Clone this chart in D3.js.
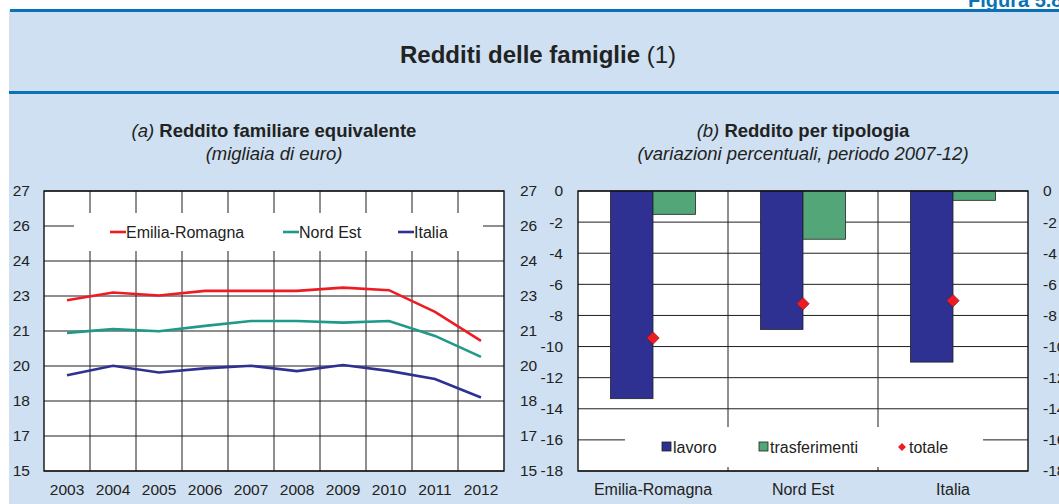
<!DOCTYPE html>
<html>
<head>
<meta charset="utf-8">
<script src="https://cdn.jsdelivr.net/npm/d3@7"></script>
<style>
  body { margin: 0; background: #fff; }
  svg { display: block; font-family: "Liberation Sans", Arial, sans-serif; }
</style>
</head>
<body>
<svg id="chart" width="1059" height="504"></svg>
<script>
// pannello (a): reddito familiare equivalente, migliaia di euro
const anni = ["2003", "2004", "2005", "2006", "2007", "2008", "2009", "2010", "2011", "2012"];
const emiliaRomagna = [22.32, 22.65, 22.52, 22.72, 22.72, 22.72, 22.86, 22.75, 21.82, 20.58];
const nordEst = [20.92, 21.08, 20.99, 21.22, 21.43, 21.43, 21.36, 21.43, 20.79, 19.89];
const italia = [19.10, 19.51, 19.22, 19.40, 19.51, 19.28, 19.54, 19.29, 18.94, 18.15];
const tickA = [15, 16.5, 18, 19.5, 21, 22.5, 24, 25.5, 27];
const tickLabelA = ["15", "17", "18", "20", "21", "23", "24", "26", "27"];

// pannello (b): variazioni percentuali 2007-12
const aree = ["Emilia-Romagna", "Nord Est", "Italia"];
const lavoro = [-13.35, -8.9, -11.0];
const trasferimenti = [-1.5, -3.1, -0.6];
const totale = [-9.45, -7.25, -7.05];
const tickB = [0, -2, -4, -6, -8, -10, -12, -14, -16, -18];

const blu = "#0a72b5";
const sfondo = "#cee0f1";
const rosso = "#ed1c24";
const verdeAcqua = "#1f9a88";
const bluScuro = "#2e3192";
const verde = "#52a677";
const griglia = "#1e1e1e";

const svg = d3.select("#chart");

// testata
svg.append("rect").attr("x", 9).attr("y", 10).attr("width", 1050).attr("height", 494).attr("fill", sfondo);
svg.append("rect").attr("x", 10).attr("y", 9).attr("width", 1049).attr("height", 3).attr("fill", blu);
svg.append("rect").attr("x", 9).attr("y", 91).attr("width", 1050).attr("height", 3).attr("fill", blu);
svg.append("text").attr("x", 968).attr("y", 7)
  .attr("fill", blu).attr("font-weight", "bold").attr("font-size", 20)
  .text("Figura 5.8");

const titolo = svg.append("text").attr("x", 538).attr("y", 63)
  .attr("text-anchor", "middle").attr("font-size", 24).attr("fill", "#222");
titolo.append("tspan").attr("font-weight", "bold").text("Redditi delle famiglie ");
titolo.append("tspan").text("(1)");

// sottotitoli
function sottotitolo(cx, lettera, testo, nota) {
  const t = svg.append("text").attr("x", cx).attr("y", 137)
    .attr("text-anchor", "middle").attr("font-size", 18.5).attr("fill", "#222");
  t.append("tspan").attr("font-style", "italic").text(lettera + " ");
  t.append("tspan").attr("font-weight", "bold").text(testo);
  svg.append("text").attr("x", cx).attr("y", 160)
    .attr("text-anchor", "middle").attr("font-size", 18.5).attr("font-style", "italic")
    .attr("fill", "#222").text(nota);
}
sottotitolo(274, "(a)", "Reddito familiare equivalente", "(migliaia di euro)");
sottotitolo(803, "(b)", "Reddito per tipologia", "(variazioni percentuali, periodo 2007-12)");

const yTop = 191, yBottom = 471;

function assi(g, axis, x) {
  g.attr("transform", `translate(${x},0)`).call(axis);
  g.select(".domain").remove();
  g.selectAll("text").attr("font-size", 15.5).attr("fill", "#222");
}

// ---------- pannello (a) ----------
const xA = d3.scaleBand().domain(anni).range([44, 504]);
const yA = d3.scaleLinear().domain([15, 27]).range([yBottom, yTop]);

const gA = svg.append("g");
gA.append("rect").attr("x", 44).attr("y", yTop).attr("width", 460).attr("height", yBottom - yTop).attr("fill", "#fff");

gA.selectAll(".hA").data(tickA).enter().append("line")
  .attr("x1", 44).attr("x2", 504).attr("y1", d => yA(d)).attr("y2", d => yA(d))
  .attr("stroke", griglia).attr("stroke-width", 1);
gA.selectAll(".vA").data(anni.slice(1)).enter().append("line")
  .attr("x1", d => xA(d)).attr("x2", d => xA(d)).attr("y1", yTop).attr("y2", yBottom)
  .attr("stroke", griglia).attr("stroke-width", 1);

// legenda (a)
gA.append("rect").attr("x", 74).attr("y", 213).attr("width", 409).attr("height", 38).attr("fill", "#fff");

const serieA = [
  { nome: "Emilia-Romagna", valori: emiliaRomagna, colore: rosso, lx: 110 },
  { nome: "Nord Est", valori: nordEst, colore: verdeAcqua, lx: 283 },
  { nome: "Italia", valori: italia, colore: bluScuro, lx: 398 }
];

const linea = d3.line().x((d, i) => xA(anni[i]) + xA.bandwidth() / 2).y(d => yA(d));
gA.selectAll(".serie").data(serieA).enter().append("path")
  .attr("d", d => linea(d.valori))
  .attr("fill", "none").attr("stroke", d => d.colore).attr("stroke-width", 2.6);

const legA = gA.selectAll(".legA").data(serieA).enter().append("g")
  .attr("transform", d => `translate(${d.lx},232)`);
legA.append("line").attr("x1", 0).attr("x2", 16).attr("stroke", d => d.colore).attr("stroke-width", 2.6);
legA.append("text").attr("x", 16).attr("dy", "0.35em").attr("font-size", 16).attr("fill", "#222").text(d => d.nome);

gA.append("rect").attr("x", 44).attr("y", yTop).attr("width", 460).attr("height", yBottom - yTop)
  .attr("fill", "none").attr("stroke", "#111").attr("stroke-width", 1.4);

assi(gA.append("g"), d3.axisLeft(yA).tickValues(tickA).tickFormat((d, i) => tickLabelA[i]).tickSize(0).tickPadding(14), 44);
assi(gA.append("g"), d3.axisRight(yA).tickValues(tickA).tickFormat((d, i) => tickLabelA[i]).tickSize(0).tickPadding(16), 504);
const axA = gA.append("g").attr("transform", `translate(0,${yBottom})`)
  .call(d3.axisBottom(xA).tickSize(0).tickPadding(13));
axA.select(".domain").remove();
axA.selectAll("text").attr("font-size", 15.5).attr("fill", "#222");

// ---------- pannello (b) ----------
const xB = d3.scaleBand().domain(aree).range([578, 1028]);
const xS = d3.scaleBand().domain(["lavoro", "trasferimenti"]).range([0, xB.bandwidth()]).paddingOuter(0.765);
const yB = d3.scaleLinear().domain([-18, 0]).range([yBottom, yTop]);

const gB = svg.append("g");
gB.append("rect").attr("x", 578).attr("y", yTop).attr("width", 450).attr("height", yBottom - yTop).attr("fill", "#fff");

gB.selectAll(".hB").data(tickB).enter().append("line")
  .attr("x1", 578).attr("x2", 1028).attr("y1", d => yB(d)).attr("y2", d => yB(d))
  .attr("stroke", griglia).attr("stroke-width", 1);
gB.selectAll(".vB").data(aree.slice(1)).enter().append("line")
  .attr("x1", d => xB(d)).attr("x2", d => xB(d)).attr("y1", yTop).attr("y2", yBottom)
  .attr("stroke", griglia).attr("stroke-width", 1);

// legenda (b)
gB.append("rect").attr("x", 625).attr("y", 427).attr("width", 358).attr("height", 40).attr("fill", "#fff");

const serieB = [
  { nome: "lavoro", valori: lavoro, colore: bluScuro },
  { nome: "trasferimenti", valori: trasferimenti, colore: verde }
];

serieB.forEach(s => {
  gB.selectAll(".b-" + s.nome).data(s.valori).enter().append("rect")
    .attr("x", (d, i) => xB(aree[i]) + xS(s.nome))
    .attr("y", d => yB(Math.max(0, d)))
    .attr("width", xS.bandwidth())
    .attr("height", d => Math.abs(yB(d) - yB(0)))
    .attr("fill", s.colore).attr("stroke", "#222").attr("stroke-width", 0.8);
});

const rombo = d3.symbol().type(d3.symbolDiamond2).size(100);
gB.selectAll(".tot").data(totale).enter().append("path")
  .attr("d", rombo)
  .attr("transform", (d, i) => `translate(${xB(aree[i]) + xB.bandwidth() / 2},${yB(d)})`)
  .attr("fill", rosso).attr("stroke", "#8a1010").attr("stroke-width", 0.6);

const legB = [
  { nome: "lavoro", colore: bluScuro, lx: 662 },
  { nome: "trasferimenti", colore: verde, lx: 759 }
];
legB.forEach(l => {
  gB.append("rect").attr("x", l.lx).attr("y", 442).attr("width", 9).attr("height", 9)
    .attr("fill", l.colore).attr("stroke", "#222").attr("stroke-width", 0.8);
  gB.append("text").attr("x", l.lx + 11).attr("y", 447).attr("dy", "0.35em")
    .attr("font-size", 16).attr("fill", "#222").text(l.nome);
});
gB.append("path").attr("d", d3.symbol().type(d3.symbolDiamond2).size(40))
  .attr("transform", "translate(902,447)").attr("fill", rosso);
gB.append("text").attr("x", 909).attr("y", 447).attr("dy", "0.35em")
  .attr("font-size", 16).attr("fill", "#222").text("totale");

gB.append("rect").attr("x", 578).attr("y", yTop).attr("width", 450).attr("height", yBottom - yTop)
  .attr("fill", "none").attr("stroke", "#111").attr("stroke-width", 1.4);

// trattino semplice per i negativi, come nell'originale
assi(gB.append("g"), d3.axisLeft(yB).tickValues(tickB).tickFormat(d => String(d)).tickSize(0).tickPadding(15), 578);
assi(gB.append("g"), d3.axisRight(yB).tickValues(tickB).tickFormat(d => String(d)).tickSize(0).tickPadding(15), 1028);
const axB = gB.append("g").attr("transform", `translate(0,${yBottom})`)
  .call(d3.axisBottom(xB).tickSize(0).tickPadding(13));
axB.select(".domain").remove();
axB.selectAll("text").attr("font-size", 16).attr("fill", "#222");
</script>
</body>
</html>
